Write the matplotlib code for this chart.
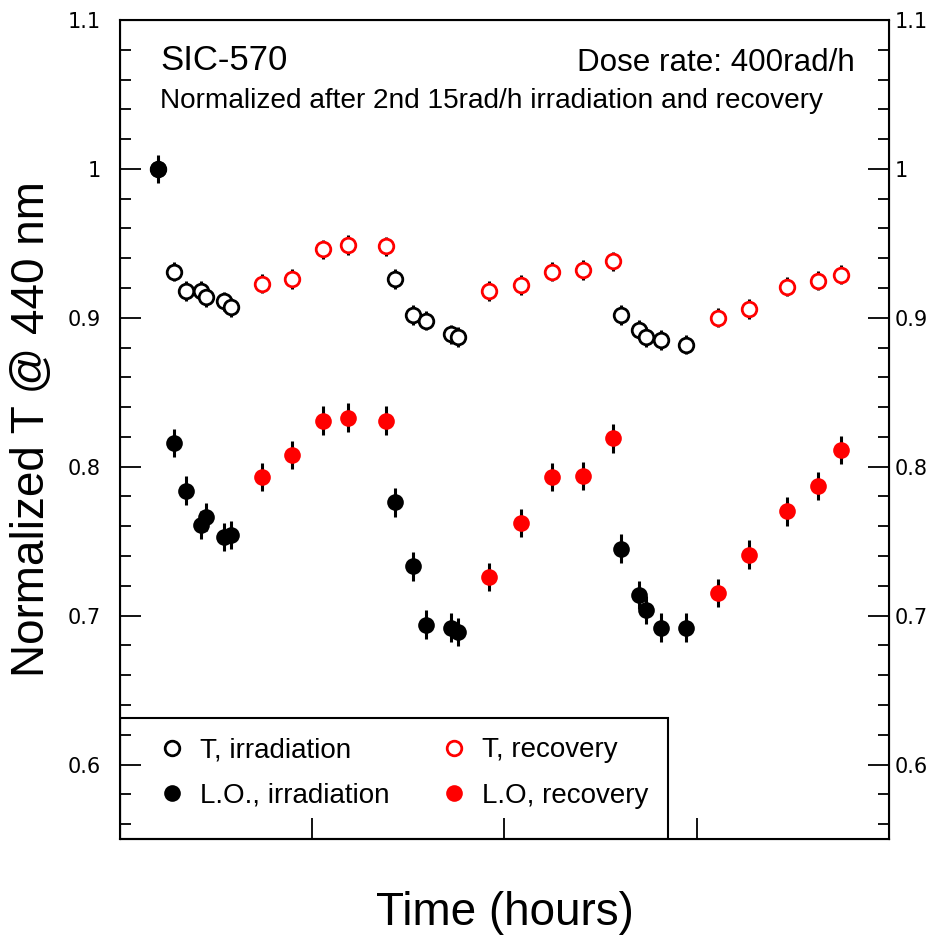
import matplotlib
matplotlib.use("Agg")
import matplotlib.pyplot as plt
from matplotlib.patches import Rectangle
from matplotlib.ticker import MultipleLocator, FuncFormatter

plt.rcParams['font.family'] = ['Liberation Sans', 'DejaVu Sans']

# time (hours) of each measurement during the irradiation steps
t_irr = [1.99, 2.79, 3.42, 4.21, 4.49, 5.43, 5.77,
         14.29, 15.24, 15.93, 17.22, 17.60,
         26.06, 27.00, 27.34, 28.14, 29.44]
T_irr = [1.000, 0.931, 0.918, 0.918, 0.914, 0.911, 0.907,
         0.926, 0.902, 0.898, 0.889, 0.887,
         0.902, 0.892, 0.887, 0.885, 0.882]
lo_irr = [1.000, 0.816, 0.784, 0.761, 0.766, 0.753, 0.754,
          0.776, 0.733, 0.694, 0.692, 0.689,
          0.745, 0.714, 0.704, 0.692, 0.692]

# time (hours) of each measurement during recovery
t_rec = [7.40, 8.95, 10.57, 11.84, 13.82,
         19.21, 20.86, 22.47, 24.08, 25.66,
         31.12, 32.73, 34.71, 36.32, 37.49]
T_rec = [0.923, 0.926, 0.946, 0.949, 0.948,
         0.918, 0.922, 0.931, 0.932, 0.938,
         0.900, 0.906, 0.921, 0.925, 0.929]
lo_rec = [0.793, 0.808, 0.831, 0.833, 0.831,
          0.726, 0.762, 0.793, 0.794, 0.819,
          0.715, 0.741, 0.770, 0.787, 0.811]

T_err = 0.0065
lo_err = 0.0095

fig = plt.figure(figsize=(9.33, 9.35), dpi=100)
ax = fig.add_axes([0.1286, 0.1027, 0.8242, 0.8759])
ax.set_axisbelow(False)

# error bars go underneath the markers
eb = dict(fmt='none', ecolor='black', elinewidth=2.2, capsize=0, zorder=2)
ax.errorbar(t_irr, T_irr, yerr=T_err, **eb)
ax.errorbar(t_rec, T_rec, yerr=T_err, **eb)
ax.errorbar(t_irr, lo_irr, yerr=lo_err, **eb)
ax.errorbar(t_rec, lo_rec, yerr=lo_err, **eb)

open_kw = dict(ls='none', marker='o', ms=10.5, mew=2.0, mfc='white', zorder=3)
fill_kw = dict(ls='none', marker='o', ms=12, mew=0, zorder=4)
h1, = ax.plot(t_irr, T_irr, mec='black', label='T, irradiation', **open_kw)
h3, = ax.plot(t_rec, T_rec, mec='red', label='T, recovery', **open_kw)
h2, = ax.plot(t_irr, lo_irr, mfc='black', label='L.O., irradiation', **fill_kw)
h4, = ax.plot(t_rec, lo_rec, mfc='red', label='L.O, recovery', **fill_kw)

ax.set_xlim(0, 40)
ax.set_ylim(0.55, 1.1)
ax.xaxis.set_major_locator(MultipleLocator(10))
ax.yaxis.set_major_locator(MultipleLocator(0.1))
ax.yaxis.set_minor_locator(MultipleLocator(0.02))
fmt = FuncFormatter(lambda v, p: '%g' % round(v, 2))
ax.yaxis.set_major_formatter(fmt)

ax.tick_params(axis='x', which='both', direction='in', length=15, width=1.3,
               top=False, labelbottom=False)
ax.tick_params(axis='y', which='major', direction='in', length=15, width=1.3,
               labelsize=15, pad=14, labelfontfamily='DejaVu Sans')
ax.tick_params(axis='y', which='minor', direction='in', length=8, width=1.3)
for s in ax.spines.values():
    s.set_linewidth(1.5)

# right-hand axis repeats the scale
ax2 = ax.twinx()
ax2.set_ylim(ax.get_ylim())
ax2.yaxis.set_major_locator(MultipleLocator(0.1))
ax2.yaxis.set_minor_locator(MultipleLocator(0.02))
ax2.yaxis.set_major_formatter(fmt)
ax2.tick_params(axis='y', which='major', direction='in', length=15, width=1.3,
                labelsize=15, pad=4, labelfontfamily='DejaVu Sans')
ax2.tick_params(axis='y', which='minor', direction='in', length=8, width=1.3)

ax.set_ylabel('Normalized T @ 440 nm', fontsize=33)
ax.yaxis.set_label_coords(-0.086, 0.5)
ax.set_xlabel('Time (hours)', fontsize=33)
ax.xaxis.set_label_coords(0.5, -0.064)

ax.text(0.052, 0.951, 'SIC-570', transform=ax.transAxes, fontsize=25,
        va='center', ha='left')
ax.text(0.956, 0.9475, 'Dose rate: 400rad/h', transform=ax.transAxes,
        fontsize=22.6, va='center', ha='right')
ax.text(0.052, 0.901, 'Normalized after 2nd 15rad/h irradiation and recovery',
        transform=ax.transAxes, fontsize=20.2, va='center', ha='left')

# legend box sits in the lower-left corner, under the tick marks
box = Rectangle((0, 0), 0.7126, 0.1477, transform=ax.transAxes,
                facecolor='white', edgecolor='black', lw=1.5, zorder=2.3)
ax.add_patch(box)
leg = ax.legend([h1, h2, h3, h4],
                ['T, irradiation', 'L.O., irradiation', 'T, recovery', 'L.O, recovery'],
                ncol=2, loc='center left', bbox_to_anchor=(0.0312, 0.0806),
                borderaxespad=0, borderpad=0, frameon=False, fontsize=20,
                handlelength=2, handletextpad=0.0, columnspacing=1.33,
                labelspacing=0.7)
leg.set_zorder(2.4)

fig.savefig('out.png', dpi=100)
